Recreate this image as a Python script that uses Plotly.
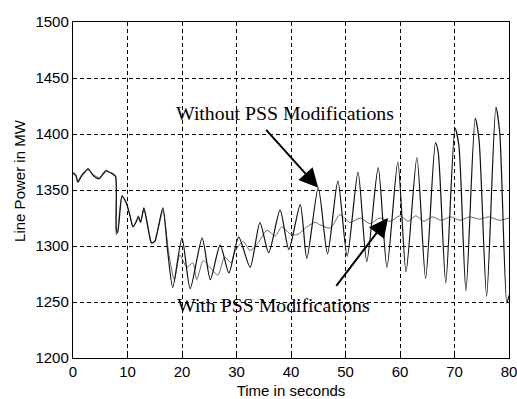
import plotly.graph_objects as go

# Line power response: time (s) and power (MW) read at peaks, troughs and bends
t_without = [0, 0.5, 0.9, 1.5, 2.2, 2.75, 3.7, 4.8, 5.5, 6.1, 6.6, 7.3, 7.8, 7.95, 8.2,
             9.0, 9.5, 9.9, 10.5, 11.0, 11.6, 12.0, 12.4, 13.0, 13.5, 14.0, 14.4, 15.0,
             15.7, 16.5, 17.4, 18.3, 20.0, 21.5, 23.7, 25.2, 27.0, 28.6, 30.4, 32.5,
             34.3, 35.9, 38.0, 39.6, 41.7, 42.9, 45.0, 46.7, 48.6, 50.3, 52.3, 53.9,
             56.0, 57.6, 59.6, 61.1, 63.1, 64.7, 66.5, 67.0, 68.4, 70.1, 70.8, 72.1,
             73.8, 74.5, 75.9, 77.6, 78.3, 79.6, 80.0]
p_without = [1365, 1363, 1357, 1362, 1366, 1369, 1363, 1360, 1364, 1367, 1366, 1364, 1362, 1314, 1312,
             1345, 1341, 1337, 1326, 1317, 1322, 1326, 1321, 1334, 1323, 1310, 1303, 1304,
             1318, 1334, 1294, 1263, 1307, 1262, 1307, 1270, 1301, 1276, 1308, 1281,
             1321, 1294, 1332, 1297, 1337, 1289, 1352, 1293, 1358, 1291, 1366, 1286,
             1370, 1281, 1375, 1277, 1379, 1271, 1392, 1384, 1267, 1405, 1390, 1260,
             1414, 1395, 1255, 1424, 1401, 1249, 1256]

t_with = [0, 0.5, 0.9, 1.5, 2.2, 2.75, 3.7, 4.8, 5.5, 6.1, 6.6, 7.3, 7.8, 7.95, 8.2,
          9.0, 9.5, 9.9, 10.5, 11.0, 11.6, 12.0, 12.4, 13.0, 13.5, 14.0, 14.4, 15.0,
          15.7, 16.5, 17.4, 17.9, 18.6, 19.6, 20.9, 22.0, 22.7, 23.9, 25.1, 26.6,
          27.8, 29.0, 29.7, 31.2, 32.5, 34.0, 35.6, 37.1, 38.3, 39.8, 41.1, 42.9,
          44.4, 45.3, 47.2, 49.0, 50.8, 52.7, 54.5, 56.3, 58.2, 60.0, 61.5, 62.9,
          64.4, 65.9, 67.6, 69.3, 71.0, 72.8, 74.6, 76.3, 78.2, 80.0]
p_with = [1366, 1364, 1358, 1363, 1367, 1368, 1364, 1361, 1365, 1368, 1366, 1365, 1363, 1310, 1314,
          1344, 1342, 1336, 1327, 1318, 1321, 1327, 1322, 1332, 1324, 1311, 1302, 1305,
          1317, 1332, 1300, 1284, 1270, 1292, 1281, 1285, 1270, 1287, 1281, 1274,
          1290, 1285, 1295, 1304, 1296, 1303, 1314, 1309, 1317, 1311, 1310, 1317,
          1321, 1319, 1316, 1328, 1321, 1325, 1320, 1325, 1322, 1327, 1322, 1327,
          1322, 1326, 1323, 1326, 1323, 1326, 1324, 1326, 1323, 1325]

x_ticks = [0, 10, 20, 30, 40, 50, 60, 70, 80]
y_ticks = [1200, 1250, 1300, 1350, 1400, 1450, 1500]

fig = go.Figure()
fig.add_trace(go.Scatter(x=t_with, y=p_with, mode="lines",
                         line=dict(color="#6a6a6a", width=1, shape="spline", smoothing=0.7),
                         showlegend=False))
fig.add_trace(go.Scatter(x=t_without, y=p_without, mode="lines",
                         line=dict(color="#111111", width=1.2, shape="spline", smoothing=0.7),
                         showlegend=False))

label_font = dict(family="Liberation Serif, Times New Roman, serif", size=19.8, color="black")

# Labels and pointer arrows
fig.add_annotation(x=38.9, y=1419, text="Without PSS Modifications", showarrow=False,
                   font=label_font, xref="x", yref="y")
fig.add_annotation(x=45.0, y=1352, ax=35.2, ay=1405, axref="x", ayref="y", text="",
                   showarrow=True, arrowhead=2, arrowsize=1.9, arrowwidth=2, arrowcolor="black")
fig.add_annotation(x=36.7, y=1247, text="With PSS Modifications", showarrow=False,
                   font=label_font, xref="x", yref="y")
fig.add_annotation(x=57.8, y=1325, ax=48.1, ay=1263, axref="x", ayref="y", text="",
                   showarrow=True, arrowhead=2, arrowsize=1.9, arrowwidth=2, arrowcolor="black")

axis_font = dict(family="Liberation Sans, Arial, sans-serif", size=15, color="black")
title_font = dict(family="Liberation Sans, Arial, sans-serif", size=15, color="black")

# Vertical axis title placed as a rotated label left of the tick numbers
fig.add_annotation(text="Line Power in MW", xref="paper", yref="paper",
                   x=-0.1216, y=0.53, xanchor="center", yanchor="middle",
                   textangle=-90, showarrow=False, font=title_font)

common = dict(showline=True, linecolor="black", linewidth=1.4, mirror=True,
              showgrid=True, gridcolor="black", gridwidth=1.2, griddash="4px,3px",
              zeroline=False, ticks="inside", ticklen=4, tickcolor="black",
              tickfont=axis_font, ticklabeloverflow="allow", automargin=False)

fig.update_xaxes(range=[0, 80], tickvals=x_ticks, ticktext=[str(v) for v in x_ticks],
                 title=dict(text="Time in seconds", font=title_font),
                 **common)
fig.update_yaxes(range=[1200, 1500], tickvals=y_ticks, ticktext=[str(v) for v in y_ticks],
                 **common)

fig.update_layout(width=517, height=399, margin=dict(l=73, r=8, t=22, b=41),
                  plot_bgcolor="white", paper_bgcolor="white")

fig.write_html("out.html")
